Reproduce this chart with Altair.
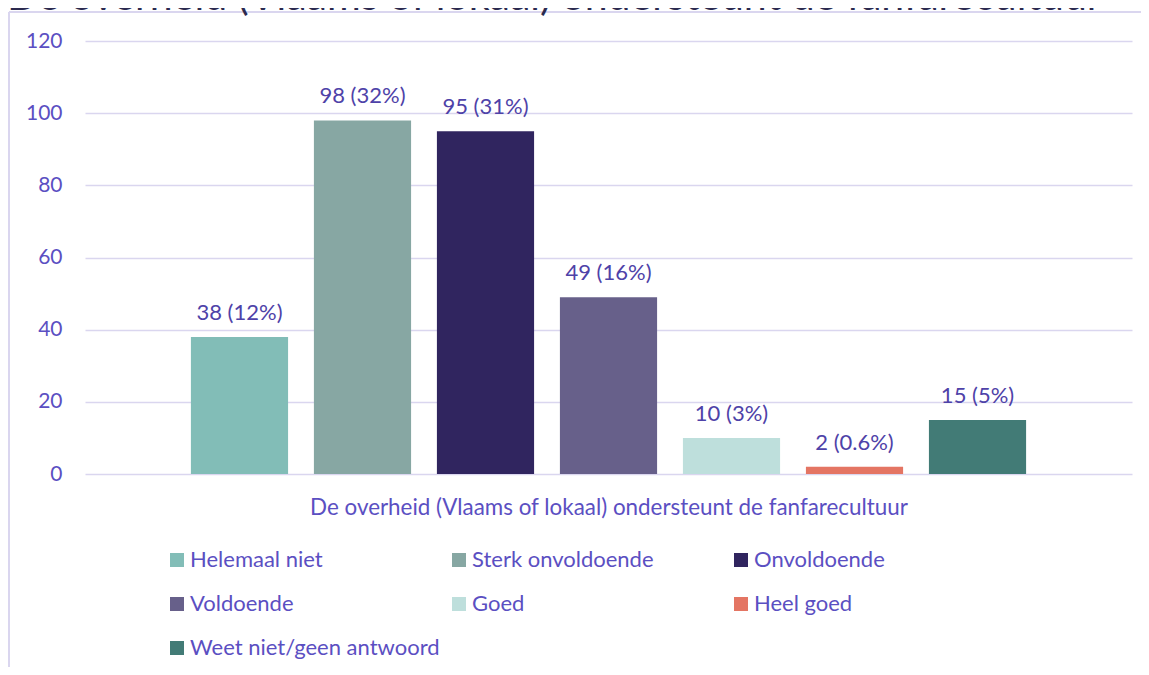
import altair as alt
import pandas as pd

categories = ["Helemaal niet", "Sterk onvoldoende", "Onvoldoende", "Voldoende",
              "Goed", "Heel goed", "Weet niet/geen antwoord"]
counts = [38, 98, 95, 49, 10, 2, 15]
percents = ["12%", "32%", "31%", "16%", "3%", "0.6%", "5%"]
colors = ["#82BDB7", "#87A7A3", "#30255F", "#67608A", "#BEDFDC", "#E47563", "#427B76"]
y_ticks = [0, 20, 40, 60, 80, 100, 120]
title_text = "De overheid (Vlaams of lokaal) ondersteunt de fanfarecultuur"

df = pd.DataFrame({
    "cat": categories,
    "count": counts,
    "label": [f"{c} ({p})" for c, p in zip(counts, percents)],
})

FONT = "Lato"
TXT = "#5B4FC2"
LBL = "#4E42A8"
GRID = "#DAD6EF"

PAD_L, PAD_T = 77, 33
W, H = 1047, 433
SVG_W, SVG_H = 1133, 659

x_enc = alt.X("cat:N", sort=categories,
              scale=alt.Scale(paddingInner=0.21, paddingOuter=0.861),
              axis=alt.Axis(labels=False, ticks=False, domain=False, grid=False,
                            title="De overheid (Vlaams of lokaal) ondersteunt de fanfarecultuur",
                            titleFont=FONT, titleFontSize=22.4, titleFontWeight="normal",
                            titleColor=TXT, titlePadding=22))
y_enc = alt.Y("count:Q", scale=alt.Scale(domain=[0, 120], nice=False),
              axis=alt.Axis(values=y_ticks, title=None, domain=False, ticks=False,
                            labelFont=FONT, labelFontSize=21, labelColor=TXT,
                            labelPadding=23, gridColor=GRID, gridWidth=1.5))

base = alt.Chart(df)

bars = base.mark_bar().encode(
    x=x_enc,
    y=y_enc,
    color=alt.Color("cat:N", sort=categories,
                    scale=alt.Scale(domain=categories, range=colors),
                    legend=alt.Legend(title=None, orient="none", legendX=81, legendY=508,
                                      columns=3, gridAlign="all", columnPadding=8,
                                      rowPadding=22, symbolType="square", symbolSize=196,
                                      symbolStrokeWidth=0, labelFont=FONT, labelFontSize=22,
                                      labelColor=TXT, labelOffset=2, labelLimit=400,
                                      padding=0, direction="horizontal")),
)

texts = base.mark_text(baseline="alphabetic", dy=-17, font=FONT, fontSize=22, color=LBL).encode(
    x=alt.X("cat:N", sort=categories),
    y="count:Q",
    text="label:N",
)

border_v = alt.Chart(df).mark_rule(color=GRID, strokeWidth=1.5).encode(
    x=alt.value(-76), y=alt.value(-29), y2=alt.value(SVG_H - PAD_T))
border_h = alt.Chart(df).mark_rule(color=GRID, strokeWidth=1.5).encode(
    x=alt.value(-76), x2=alt.value(SVG_W - PAD_L), y=alt.value(-29))
title = alt.Chart(pd.DataFrame({"t": [title_text]})).mark_text(
    align="left", baseline="alphabetic", font=FONT, fontSize=41, color="#2B2A4F").encode(
    x=alt.value(-78), y=alt.value(-31), text="t:N")

chart = alt.layer(bars, texts, border_v, border_h, title).properties(
    width=W, height=H,
    autosize=alt.AutoSizeParams(type="none"),
    padding={"left": PAD_L, "top": PAD_T, "right": SVG_W - PAD_L - W,
             "bottom": SVG_H - PAD_T - H},
).configure(background="white").configure_view(strokeWidth=0)

chart.save("out.html", embed_options={"renderer": "svg", "actions": False})
